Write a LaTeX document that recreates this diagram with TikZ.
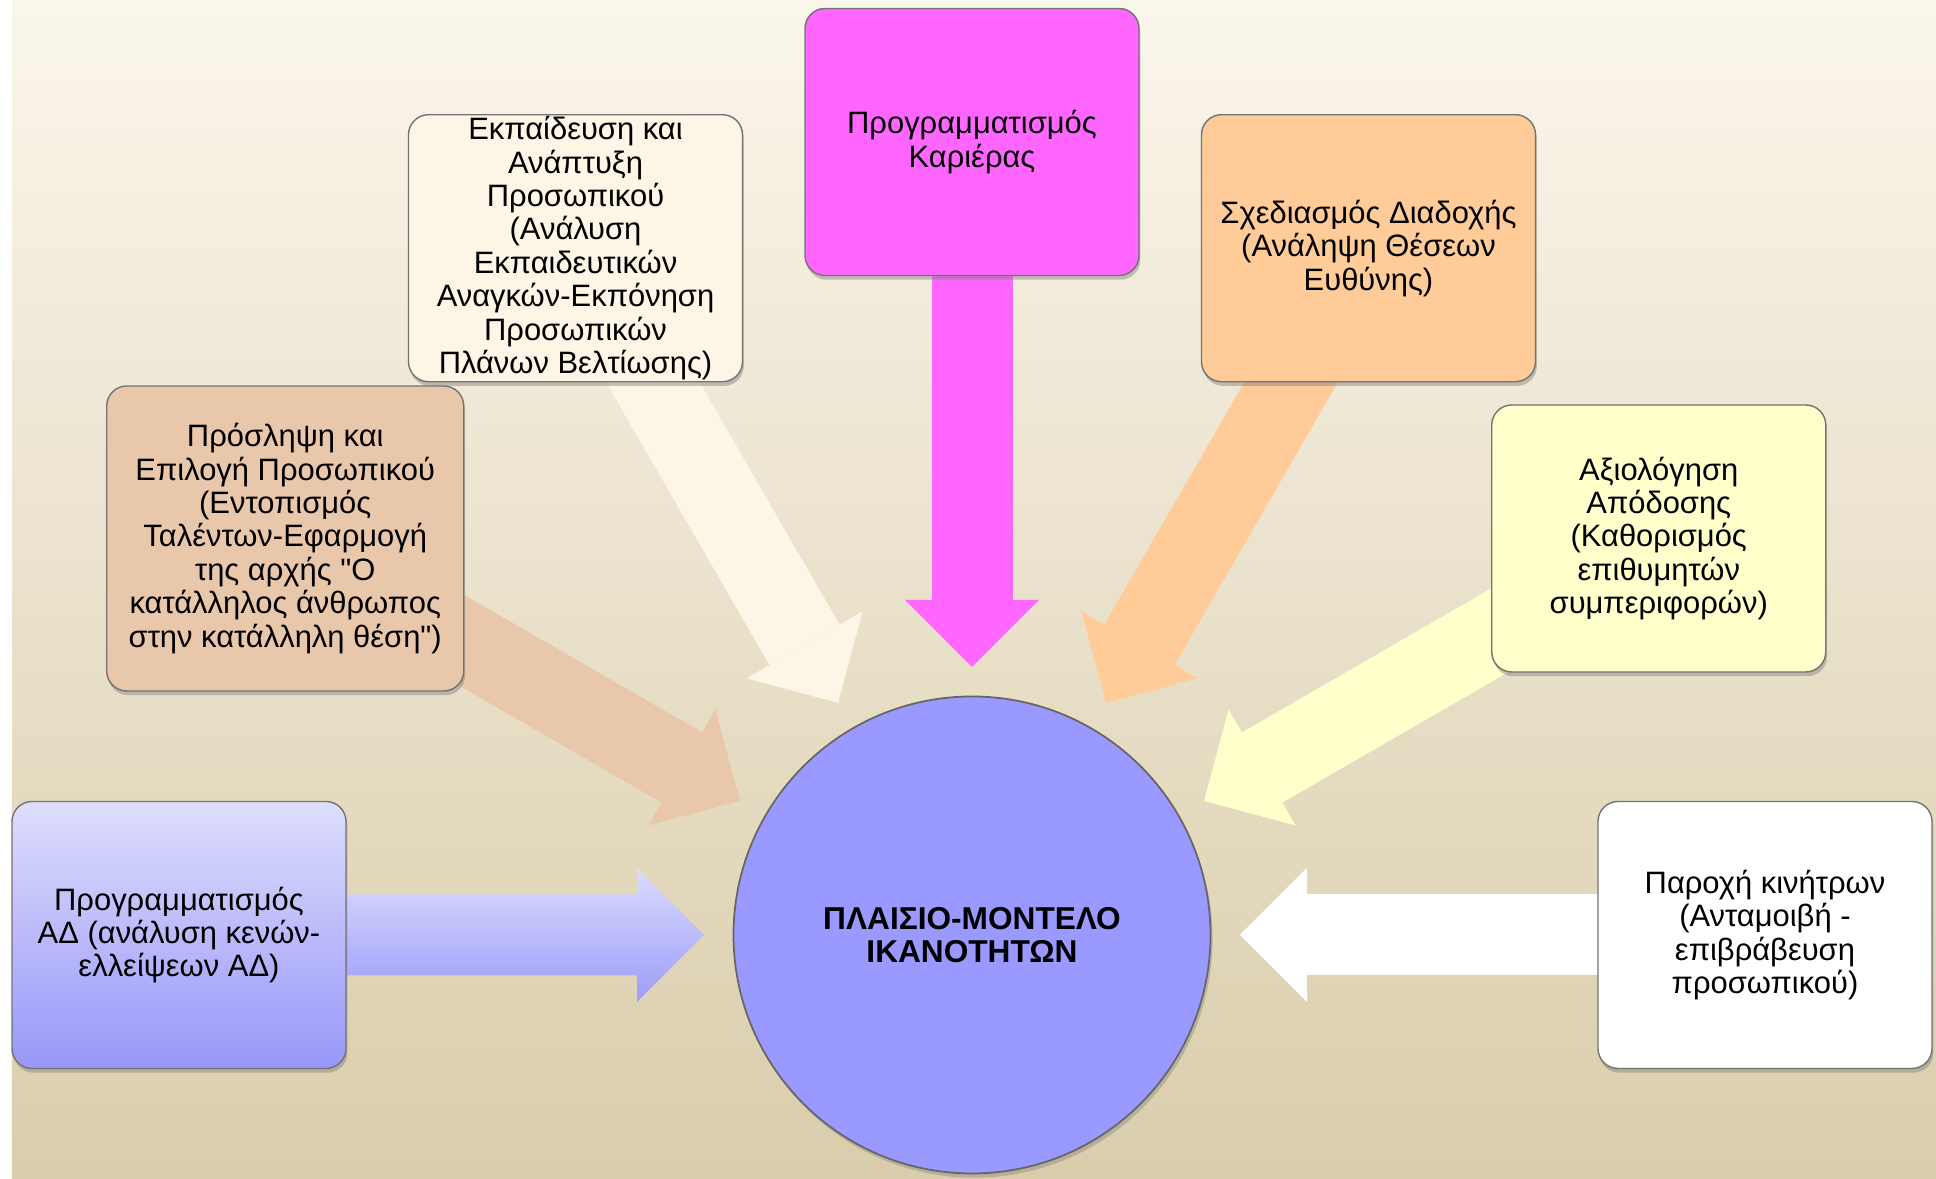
\documentclass[tikz,border=0pt]{standalone}
\usepackage{fontspec}
\setmainfont{Liberation Sans}[Ligatures=TeXOff]
\usetikzlibrary{calc,shadows,arrows.meta}
\pgfdeclarelayer{back}
\pgfdeclarelayer{mid}
\pgfsetlayers{back,mid,main}
\definecolor{bgtop}{HTML}{FBF6EC}
\definecolor{bgbot}{HTML}{D9CDAB}
\definecolor{hubblue}{HTML}{9999FF}
\definecolor{planA}{HTML}{DEDEFC}
\definecolor{planB}{HTML}{9797F9}
\definecolor{arrowA}{HTML}{DCDCFC}
\definecolor{arrowB}{HTML}{9C9CFA}
\definecolor{recruitc}{HTML}{E9C7AB}
\definecolor{trainc}{HTML}{FDF5E6}
\definecolor{careerc}{HTML}{FF66FF}
\definecolor{succc}{HTML}{FFCC99}
\definecolor{apprc}{HTML}{FFFFCC}
\definecolor{rewardc}{HTML}{FFFFFF}
\tikzset{
	box/.style={rectangle,rounded corners=0.2cm,draw=black!55,line width=0.4pt,
		minimum width=3.34cm,minimum height=2.67cm,inner sep=0pt,align=center,
		drop shadow={shadow xshift=0.4pt,shadow yshift=-1.2pt,opacity=0.45}},
	hub/.style={circle,fill=hubblue,draw=black!60,line width=0.5pt,minimum size=4.77cm,
		inner sep=0pt,align=center,font=\fontsize{9}{9.5}\selectfont\bfseries,
		drop shadow={shadow xshift=0.6pt,shadow yshift=-1.2pt,opacity=0.4}},
	fat/.style={line width=0.81cm,-{Triangle[length=0.67cm,width=1.34cm,line width=0pt]}}
}

\begin{document}
\begin{tikzpicture}[font=\fontsize{8.8}{9.5}\selectfont]
	\useasboundingbox (0,0) rectangle (19.36,11.79);
	\begin{pgfonlayer}{back}
		\fill[top color=bgtop,bottom color=bgbot] (0.12,0) rectangle (19.36,11.79);
	\end{pgfonlayer}
	
	%CENTRE
	\node[hub] (hub) at (9.72,2.44) {ΠΛΑΙΣΙΟ-ΜΟΝΤΕΛΟ\\ΙΚΑΝΟΤΗΤΩΝ};
	
	%BOXES
	\node[box,top color=planA,bottom color=planB] (plan) at ($(hub)+(180:7.93)$)
		{Προγραμματισμός\\ΑΔ (ανάλυση κενών-\\ελλείψεων ΑΔ)};
	\node[box,fill=recruitc,minimum width=3.57cm,minimum height=3.05cm] (recruit) at ($(hub)+(150:7.93)$)
		{Πρόσληψη και\\Επιλογή Προσωπικού\\(Εντοπισμός\\Ταλέντων-Εφαρμογή\\της αρχής "Ο\\κατάλληλος άνθρωπος\\στην κατάλληλη θέση")};
	\node[box,fill=trainc] (train) at ($(hub)+(120:7.93)$)
		{Εκπαίδευση και\\Ανάπτυξη\\Προσωπικού\\(Ανάλυση\\Εκπαιδευτικών\\Αναγκών-Εκπόνηση\\Προσωπικών\\Πλάνων Βελτίωσης)};
	\node[box,fill=careerc] (career) at ($(hub)+(90:7.93)$)
		{Προγραμματισμός\\Καριέρας};
	\node[box,fill=succc] (succ) at ($(hub)+(60:7.93)$)
		{Σχεδιασμός Διαδοχής\\(Ανάληψη Θέσεων\\Ευθύνης)};
	\node[box,fill=apprc] (appr) at ($(hub)+(30:7.93)$)
		{Αξιολόγηση\\Απόδοσης\\(Καθορισμός\\επιθυμητών\\συμπεριφορών)};
	\node[box,fill=rewardc] (reward) at ($(hub)+(0:7.93)$)
		{Παροχή κινήτρων\\(Ανταμοιβή -\\επιβράβευση\\προσωπικού)};
	
	%ARROWS
	\begin{pgfonlayer}{mid}
		\shade[top color=arrowA,bottom color=arrowB] ($(plan.east)+(0,0.405)$) -| ($(hub)+(-3.35,0.67)$)
			-- ($(hub)+(-2.68,0)$) -- ($(hub)+(-3.35,-0.67)$) |- ($(plan.east)+(0,-0.405)$) -- cycle;
		\draw[fat,recruitc] (recruit.center) -- ($(hub)!2.68cm!(recruit)$);
		\draw[fat,trainc] (train.center) -- ($(hub)!2.68cm!(train)$);
		\draw[fat,careerc] (career.center) -- ($(hub)!2.68cm!(career)$);
		\draw[fat,succc] (succ.center) -- ($(hub)!2.68cm!(succ)$);
		\draw[fat,apprc] (appr.center) -- ($(hub)!2.68cm!(appr)$);
		\draw[fat,rewardc] (reward.center) -- ($(hub)!2.68cm!(reward)$);
	\end{pgfonlayer}
\end{tikzpicture}
\end{document}
